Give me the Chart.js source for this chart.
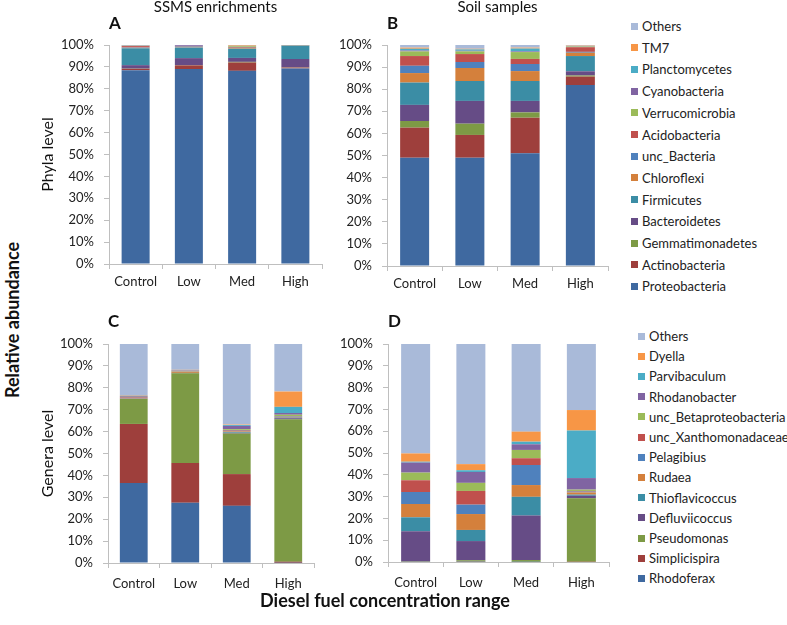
<!DOCTYPE html>
<html><head><meta charset="utf-8">
<script src="https://cdn.jsdelivr.net/npm/chart.js@4/dist/chart.umd.min.js"></script>
<style>
html,body{margin:0;padding:0;background:#fff;}
body{width:787px;height:625px;position:relative;overflow:hidden;font-family:Lato,sans-serif;}
canvas{position:absolute;}
.lbl{position:absolute;font-family:Lato,sans-serif;font-weight:bold;font-size:18px;color:#111;white-space:nowrap;}
.leg{position:absolute;height:16px;line-height:16px;font-family:Lato,sans-serif;font-size:13px;color:#222;white-space:nowrap;}
.leg i{position:absolute;left:0;top:4.5px;width:7px;height:7px;}
.leg span{position:absolute;top:0;}
</style></head><body>
<canvas id="cA" width="300" height="310" style="left:30px;top:0px"></canvas>
<canvas id="cB" width="290" height="310" style="left:330px;top:0px"></canvas>
<canvas id="cC" width="300" height="325" style="left:30px;top:300px"></canvas>
<canvas id="cD" width="290" height="325" style="left:330px;top:300px"></canvas>
<div id="legB"></div>
<div id="legD"></div>
<div class="lbl" style="left:12px;top:320px;transform:translate(-50%,-50%) rotate(-90deg);">Relative abundance</div>
<div class="lbl" style="left:385px;top:600px;transform:translate(-50%,-50%);">Diesel fuel concentration range</div>
<script>
const categories = ['Control', 'Low', 'Med', 'High'];

const phylaNames = ['Proteobacteria', 'Actinobacteria', 'Gemmatimonadetes', 'Bacteroidetes', 'Firmicutes',
  'Chloroflexi', 'unc_Bacteria', 'Acidobacteria', 'Verrucomicrobia', 'Cyanobacteria', 'Planctomycetes', 'TM7', 'Others'];
const genusNames = ['Rhodoferax', 'Simplicispira', 'Pseudomonas', 'Defluviicoccus', 'Thioflavicoccus', 'Rudaea',
  'Pelagibius', 'unc_Xanthomonadaceae', 'unc_Betaproteobacteria', 'Rhodanobacter', 'Parvibaculum', 'Dyella', 'Others'];

const seriesColors = ['#3F69A0', '#9E3F3C', '#7D9A45', '#664C86', '#3B8DA5', '#D4803C',
  '#4F81BD', '#C0504D', '#9BBB59', '#8064A2', '#4BACC6', '#F79646', '#A9BAD9'];

// rows: series (bottom -> top), columns: Control, Low, Med, High  (percent)
const phylaEnrich = [
  [88.5, 89.0, 88.2, 89.3],
  [0.6, 1.7, 3.8, 0.4],
  [0.1, 0.1, 0.3, 0.1],
  [1.6, 3.2, 1.8, 3.8],
  [7.7, 4.8, 4.2, 6.1],
  [0.2, 0.1, 0.3, 0.1],
  [0.2, 0.1, 0.1, 0.0],
  [0.6, 0.1, 0.3, 0.1],
  [0.1, 0.1, 0.4, 0.0],
  [0.1, 0.7, 0.1, 0.0],
  [0.1, 0.0, 0.1, 0.1],
  [0.1, 0.0, 0.3, 0.0],
  [0.2, 0.1, 0.1, 0.0]
];
const phylaSoil = [
  [49.0, 49.0, 51.0, 81.9],
  [13.6, 10.3, 16.1, 3.8],
  [3.0, 5.1, 2.4, 0.5],
  [7.3, 10.3, 5.2, 1.9],
  [10.1, 9.0, 9.0, 6.9],
  [4.3, 5.9, 4.5, 1.5],
  [3.3, 2.7, 3.2, 0.4],
  [4.4, 3.6, 2.3, 2.1],
  [2.1, 1.2, 3.1, 0.3],
  [0.4, 0.3, 0.3, 0.1],
  [0.8, 0.6, 1.3, 0.1],
  [0.5, 0.3, 0.4, 0.2],
  [1.2, 1.7, 1.2, 0.3]
];
const genusEnrich = [
  [36.5, 27.5, 26.1, 0.1],
  [27.0, 18.2, 14.5, 0.5],
  [11.4, 40.9, 18.5, 65.0],
  [0.1, 0.1, 0.3, 0.5],
  [0.1, 0.1, 0.3, 0.3],
  [0.3, 0.5, 0.4, 0.3],
  [0.1, 0.1, 0.3, 0.2],
  [0.3, 0.1, 0.3, 0.2],
  [0.1, 0.2, 0.4, 0.6],
  [0.4, 0.2, 1.5, 0.8],
  [0.1, 0.1, 0.4, 2.8],
  [0.2, 0.2, 0.2, 7.0],
  [23.4, 11.8, 36.8, 21.7]
];
const genusSoil = [
  [0.1, 0.1, 0.1, 0.0],
  [0.1, 0.1, 0.0, 0.1],
  [0.2, 0.6, 0.8, 29.1],
  [13.7, 8.8, 20.4, 1.2],
  [6.4, 5.1, 8.6, 0.5],
  [6.1, 7.3, 5.4, 1.0],
  [5.5, 4.3, 9.2, 0.4],
  [5.4, 6.3, 3.1, 0.3],
  [3.5, 3.7, 3.8, 0.6],
  [4.6, 5.0, 2.6, 5.3],
  [0.4, 0.8, 1.2, 21.8],
  [3.8, 2.8, 4.6, 9.4],
  [50.2, 55.1, 40.2, 30.3]
];

const AXIS = '#BFBFBF';
const TXT = '#222222';
const tickFont = {family: 'Lato', size: 13};

function makeChart(id, names, rows, cfg) {
  const datasets = names.map((n, i) => ({
    label: n, data: rows[i], backgroundColor: seriesColors[i], borderWidth: 0,
    barPercentage: cfg.barPct, categoryPercentage: 1
  }));
  const scales = {
    x: {
      stacked: true,
      grid: {display: true, drawOnChartArea: false, drawTicks: true, tickLength: 5, color: AXIS, offset: true},
      border: {display: true, color: AXIS, width: 1},
      ticks: {font: tickFont, color: TXT, padding: cfg.xpad, maxRotation: 0, autoSkip: false},
      afterFit: s => { s.height = cfg.xh; }
    },
    y: {
      stacked: true, min: 0, max: 100,
      ticks: {stepSize: 10, callback: v => v + '%', font: tickFont, color: TXT, padding: 10},
      grid: {display: true, drawOnChartArea: false, drawTicks: true, tickLength: 5, color: AXIS},
      border: {display: true, color: AXIS, width: 1},
      title: cfg.ytitle ? {display: true, text: cfg.ytitle, font: {family: 'Lato', size: 16}, color: '#111', padding: {top: 8, bottom: 0}} : {display: false},
      afterFit: s => { s.width = cfg.yw; }
    }
  };
  const letterOpts = {
    display: true, text: cfg.letter, fullSize: false, align: 'start', color: '#111',
    font: {family: 'Lato', size: 17, weight: 'bold', lineHeight: 1}, padding: {top: 0, bottom: cfg.letterPad}
  };
  const plugins = {
    tooltip: {enabled: false},
    legend: {display: false},
    title: cfg.title ? {
      display: true, text: cfg.title, fullSize: false, align: 'center', color: '#111',
      font: {family: 'Lato', size: 15, weight: 'normal', lineHeight: 1}, padding: {top: 0, bottom: 0}
    } : letterOpts,
    subtitle: cfg.title ? letterOpts : {display: false}
  };
  return new Chart(document.getElementById(id), {
    type: 'bar',
    data: {labels: categories, datasets},
    options: {
      responsive: false, animation: false, devicePixelRatio: 1,
      layout: {padding: cfg.pad},
      scales, plugins
    }
  });
}

function makeLegend(id, names, left, firstY, step) {
  const host = document.getElementById(id);
  for (let k = names.length - 1, j = 0; k >= 0; k--, j++) {
    const d = document.createElement('div');
    d.className = 'leg';
    d.style.left = left + 'px';
    d.style.top = (firstY + j * step - 8) + 'px';
    const box = document.createElement('i');
    box.style.background = seriesColors[k];
    const t = document.createElement('span');
    t.style.left = '11px';
    t.textContent = names[k];
    d.appendChild(box); d.appendChild(t);
    host.appendChild(d);
  }
}

makeChart('cA', phylaNames, phylaEnrich, {
  barPct: 0.526, xh: 35.5, xpad: 5, yw: 79, ytitle: 'Phyla level', title: 'SSMS enrichments', letter: 'A', letterPad: 13,
  pad: {top: 0, bottom: 10.5, left: 0, right: 8}
});
makeChart('cB', phylaNames, phylaSoil, {
  barPct: 0.525, xh: 35.5, xpad: 5, yw: 57, title: 'Soil samples', letter: 'B', letterPad: 13,
  pad: {top: 0, bottom: 8.5, left: 0, right: 12}
});
makeChart('cC', genusNames, genusEnrich, {
  barPct: 0.54, xh: 35.5, xpad: 8, yw: 78, ytitle: 'Genera level', letter: 'C', letterPad: 13.5,
  pad: {top: 13.5, bottom: 26.5, left: 0, right: 16}
});
makeChart('cD', genusNames, genusSoil, {
  barPct: 0.525, xh: 35.5, xpad: 8, yw: 58, letter: 'D', letterPad: 13.5,
  pad: {top: 13.5, bottom: 27.5, left: 0, right: 11}
});
makeLegend('legB', phylaNames, 631, 26, 21.7);
makeLegend('legD', genusNames, 638, 336, 20.2);
</script>
</body></html>
